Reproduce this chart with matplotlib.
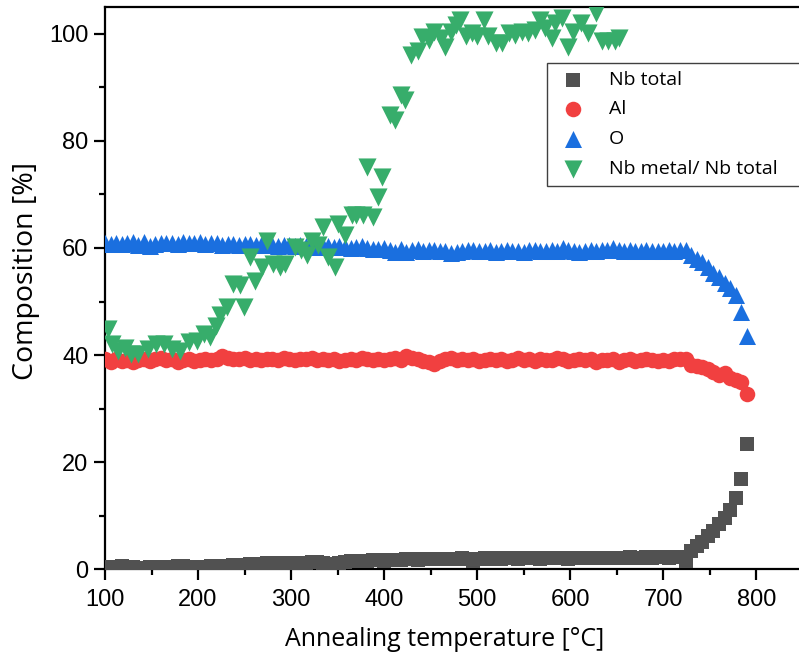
import matplotlib
matplotlib.use('Agg')
import matplotlib.pyplot as plt
from matplotlib.ticker import MultipleLocator

# measurement temperatures (deg C) for Nb total, Al and O
temps = [100, 106, 112, 118, 124, 130, 136, 142, 148, 154,
         160, 166, 172, 178, 184, 190, 196, 202, 208, 214,
         220, 226, 232, 238, 244, 250, 256, 262, 268, 274,
         280, 286, 292, 298, 304, 310, 316, 322, 328, 334,
         340, 346, 352, 358, 364, 370, 376, 382, 388, 394,
         400, 406, 412, 418, 424, 430, 436, 442, 448, 454,
         460, 466, 472, 478, 484, 490, 496, 502, 508, 514,
         520, 526, 532, 538, 544, 550, 556, 562, 568, 574,
         580, 586, 592, 598, 604, 610, 616, 622, 628, 634,
         640, 646, 652, 658, 664, 670, 676, 682, 688, 694,
         700, 706, 712, 718, 724, 730, 736, 742, 748, 754,
         760, 766, 772, 778, 784, 790]

nb_total = [0.5, 0.4, 0.5, 0.6, 0.5, 0.4, 0.3, 0.3, 0.4, 0.4,
            0.5, 0.4, 0.5, 0.6, 0.6, 0.5, 0.5, 0.4, 0.5, 0.6,
            0.6, 0.6, 0.7, 0.8, 0.8, 0.9, 1.0, 1.0, 1.0, 1.1,
            1.1, 1.0, 1.1, 1.2, 1.2, 1.1, 1.2, 1.3, 1.3, 1.2,
            1.0, 0.9, 1.2, 1.4, 1.5, 1.5, 1.6, 1.6, 1.7, 1.7,
            1.6, 1.8, 1.8, 1.8, 1.9, 1.9, 1.8, 1.9, 1.9, 1.9,
            2.0, 2.0, 1.9, 2.0, 2.1, 2.0, 1.6, 2.0, 2.1, 2.0,
            2.1, 2.0, 2.1, 2.1, 2.0, 2.2, 2.1, 2.1, 2.0, 2.1,
            2.2, 2.1, 2.1, 2.0, 2.2, 2.1, 2.2, 2.1, 2.1, 2.2,
            2.2, 2.1, 2.2, 2.2, 2.3, 2.2, 2.2, 2.3, 2.2, 2.3,
            2.3, 2.2, 2.4, 2.3, 1.6, 3.5, 4.3, 5.2, 6.2, 7.1,
            8.4, 9.6, 11.0, 13.4, 16.8, 23.4]

al = [39.2, 38.8, 39.3, 38.9, 39.1, 38.7, 39.0, 39.3, 38.9, 39.2,
      39.4, 39.0, 39.3, 38.8, 39.1, 39.2, 38.9, 39.1, 39.3, 39.0,
      39.2, 39.8, 39.5, 39.3, 39.2, 39.4, 39.1, 39.3, 39.0, 39.2,
      39.3, 39.1, 39.4, 39.2, 39.0, 39.3, 39.2, 39.5, 39.1, 39.3,
      39.0, 39.2, 38.9, 39.1, 39.3, 39.0, 39.4, 39.2, 39.1, 39.3,
      39.0, 39.2, 39.5, 39.1, 39.9, 39.4, 39.2, 38.9, 38.7, 38.4,
      38.9, 39.2, 39.4, 39.1, 39.3, 39.0, 39.2, 38.9, 39.1, 39.3,
      39.0, 39.2, 38.9, 39.1, 39.4, 39.0, 39.2, 38.9, 39.3, 39.1,
      39.0, 39.4, 39.2, 38.9, 39.1, 39.3, 39.0, 39.2, 38.8, 39.1,
      39.0, 39.2, 38.8, 39.1, 39.3, 38.9, 39.1, 39.2, 39.0, 38.9,
      39.1, 38.9, 39.2, 39.3, 39.2, 38.1, 38.0, 37.8, 37.4, 36.8,
      36.2, 36.6, 35.8, 35.4, 34.9, 32.8]

oxygen = [60.9, 60.8, 61.0, 60.7, 60.9, 61.1, 60.6, 61.2, 60.4, 60.8,
          60.9, 61.0, 60.9, 60.8, 61.1, 60.9, 61.0, 61.2, 60.8, 61.0,
          60.9, 60.5, 60.8, 60.7, 60.6, 60.8, 60.7, 60.6, 60.5, 60.7,
          60.6, 60.4, 60.5, 60.6, 60.3, 60.5, 60.4, 60.6, 60.2, 60.3,
          60.4, 60.1, 60.3, 60.2, 60.0, 60.1, 60.4, 60.0, 59.8, 59.9,
          60.0, 59.7, 59.2, 59.8, 59.3, 59.6, 59.8, 59.5, 59.7, 59.6,
          59.5, 59.4, 59.1, 59.3, 59.5, 59.6, 59.7, 59.4, 59.5, 59.6,
          59.3, 59.5, 59.6, 59.4, 59.5, 59.3, 59.6, 59.7, 59.5, 59.4,
          59.6, 59.5, 60.0, 59.7, 59.5, 59.3, 59.4, 59.6, 59.5, 59.7,
          59.6, 60.0, 59.7, 59.5, 59.6, 59.4, 59.5, 59.6, 59.5, 59.4,
          59.5, 59.6, 59.5, 59.6, 59.7, 58.6, 58.0, 57.4, 56.4, 55.4,
          54.5, 53.5, 52.6, 51.3, 48.0, 43.5]

# Nb metal / Nb total was measured on its own temperature points
temps_metal = [103, 108, 114, 122, 128, 136, 146, 155, 163, 172,
               181, 190, 199, 206, 213, 219, 224, 231, 238, 245,
               249, 256, 261, 269, 274, 281, 288, 293, 304, 311,
               317, 322, 329, 334, 340, 347, 350, 358, 365, 370,
               377, 382, 388, 393, 398, 406, 412, 418, 423, 429,
               436, 441, 448, 454, 461, 466, 472, 477, 482, 488,
               495, 500, 507, 512, 520, 527, 534, 541, 548, 555,
               562, 568, 573, 580, 584, 591, 598, 603, 612, 619,
               628, 634, 641, 648, 653]

nb_metal = [44.9, 42.1, 40.8, 41.4, 40.2, 40.2, 41.2, 42.1, 42.1, 41.2,
            40.8, 42.4, 42.7, 44.0, 43.3, 45.5, 47.4, 48.9, 53.3, 53.0,
            48.9, 58.3, 53.9, 56.4, 61.4, 57.1, 56.4, 57.1, 60.2, 59.6,
            58.6, 61.4, 60.5, 63.9, 58.3, 56.4, 64.5, 62.4, 66.1, 66.1,
            66.1, 75.1, 65.8, 69.5, 73.3, 84.8, 83.9, 88.6, 87.6, 96.0,
            96.8, 99.4, 98.8, 100.3, 99.2, 97.6, 100.4, 101.7, 102.6, 99.5,
            100.1, 99.5, 102.6, 99.5, 98.2, 98.2, 100.1, 99.8, 100.4, 100.1,
            100.7, 102.6, 101.1, 99.2, 102.0, 102.9, 97.6, 100.4, 102.0, 100.1,
            103.9, 98.6, 98.6, 98.6, 99.2]

label_font = ['Open Sans', 'DejaVu Sans']
tick_font = ['Liberation Sans Narrow', 'Liberation Sans', 'DejaVu Sans']

fig = plt.figure(figsize=(7.99, 6.63), dpi=100)
ax = fig.add_axes([0.1314, 0.1412, 0.8686, 0.8483])

ax.scatter(temps, nb_total, marker='s', s=100, color='#515151', linewidths=0, label='Nb total', zorder=3)
ax.scatter(temps, al, marker='o', s=125, color='#F14040', linewidths=0, label='Al', zorder=3)
ax.scatter(temps, oxygen, marker='^', s=150, color='#1A6FDF', linewidths=0, label='O', zorder=3)
ax.scatter(temps_metal, nb_metal, marker='v', s=170, color='#37AD6B', linewidths=0,
           label='Nb metal/ Nb total', zorder=3)

ax.set_xlim(100, 846)
ax.set_ylim(0, 105)
ax.xaxis.set_major_locator(MultipleLocator(100))
ax.xaxis.set_minor_locator(MultipleLocator(50))
ax.yaxis.set_major_locator(MultipleLocator(20))
ax.yaxis.set_minor_locator(MultipleLocator(10))
ax.set_xticks([100, 200, 300, 400, 500, 600, 700, 800])

for side in ['left', 'bottom', 'top']:
    ax.spines[side].set_linewidth(1.6)
ax.spines['right'].set_visible(False)
ax.tick_params(which='major', direction='out', length=8, width=1.6, top=False, right=False)
ax.tick_params(which='minor', direction='out', length=4.5, width=1.6, top=False, right=False)
for lab in ax.get_xticklabels() + ax.get_yticklabels():
    lab.set_fontfamily(tick_font)
    lab.set_fontsize(17)
ax.tick_params(axis='x', pad=6)
ax.tick_params(axis='y', pad=4)

ax.set_xlabel('Annealing temperature [°C]', family=label_font, fontsize=18)
ax.set_ylabel('Composition [%]', family=label_font, fontsize=20.5)
ax.xaxis.set_label_coords(0.49, -0.103)
ax.yaxis.set_label_coords(-0.094, 0.53)

# legend box runs past the right edge of the picture, as in the original
leg_x0 = 547 / 799
leg_top = 1 - 63 / 663
leg_h = 120 / 663
leg = ax.legend(loc='upper left', bbox_to_anchor=(leg_x0, leg_top - leg_h, 0.35, leg_h),
                bbox_transform=fig.transFigure, mode='expand', borderaxespad=0,
                frameon=True, fancybox=False, edgecolor='#404040', framealpha=1,
                borderpad=0.4, labelspacing=0.6, handletextpad=0.9, handlelength=1.9,
                scatterpoints=1, prop={'family': label_font, 'size': 14})
leg.get_frame().set_linewidth(1.0)

fig.savefig('out.png', dpi=100)
